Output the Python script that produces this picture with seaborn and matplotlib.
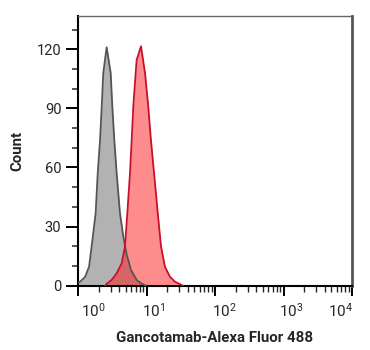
import matplotlib
matplotlib.use("Agg")
import matplotlib.pyplot as plt
import matplotlib.ticker as mticker
import matplotlib.transforms as mtransforms
import numpy as np
import pandas as pd
import seaborn as sns

# ---- data ----
control_intensity = [1.00, 1.07, 1.27, 1.45, 1.58, 1.81, 1.94, 2.10, 2.22, 2.34, 2.62,
                     3.00, 3.17, 3.39, 3.67, 4.10, 4.59, 5.14, 5.42, 5.94, 7.19, 8.51, 9.84]
control_count = [1.5, 2.0, 4.5, 9.6, 19.8, 36.8, 57, 74, 91, 108, 121,
                 108, 91, 74, 57, 36.8, 24.9, 15.6, 13, 8, 2.9, 1.0, 0]

stained_intensity = [2.48, 2.62, 3.10, 3.67, 4.35, 4.85, 5.25, 5.74, 6.08, 6.42, 6.95, 7.19,
                     8.31, 9.51, 10.6, 11.6, 12.9, 14.6, 16.3, 18.6, 22.0, 26.1, 34.1]
stained_count = [0, 1.0, 2.9, 6.3, 11.4, 19.8, 36.8, 57, 74, 91, 108, 114.6,
                 121.5, 108, 91, 74, 57, 36.8, 19.8, 9.6, 4.5, 2.0, 0]

sample_names = ["Isotype control", "Gancotamab"]
y_ticks = [0, 30, 60, 90, 120]
x_decades = [1, 10, 100, 1000, 10000]
x_label = "Gancotamab-Alexa Fluor 488"
y_label = "Count"

df = pd.DataFrame({
    "intensity": control_intensity + stained_intensity,
    "count": control_count + stained_count,
    "sample": [sample_names[0]] * len(control_intensity) + [sample_names[1]] * len(stained_intensity),
})

sns.set_style("white")
plt.rcParams["font.family"] = ["Roboto", "DejaVu Sans"]
plt.rcParams["mathtext.default"] = "regular"

fig = plt.figure(figsize=(3.7, 3.5), dpi=100)
ax = fig.add_axes([0.2108, 0.1837, 0.7406, 0.7714])

edge_colors = {sample_names[0]: "#555555", sample_names[1]: "#c8102e"}
fill_colors = {sample_names[0]: ("#808080", 0.6), sample_names[1]: ("#ff1a1a", 0.5)}

for name in sample_names:
    sub = df[df["sample"] == name]
    fc, a = fill_colors[name]
    ax.fill_between(sub["intensity"], 0, sub["count"], color=fc, alpha=a, linewidth=0, zorder=2)
    sns.lineplot(data=sub, x="intensity", y="count", ax=ax, color=edge_colors[name],
                 linewidth=1.3, estimator=None, sort=True, legend=False, zorder=3)

ax.set_xscale("log")
ax.set_xlim(1, 1e4)
ax.set_ylim(0, 137)

ax.set_yticks(y_ticks)
ax.yaxis.set_minor_locator(mticker.MultipleLocator(10))
ax.xaxis.set_major_locator(mticker.FixedLocator(x_decades))
ax.xaxis.set_minor_locator(mticker.LogLocator(base=10, subs=np.arange(2, 10)))
ax.xaxis.set_minor_formatter(mticker.NullFormatter())
ax.xaxis.set_major_formatter(mticker.FuncFormatter(lambda v, p: r"$10^{%d}$" % round(np.log10(v))))

ax.tick_params(axis="y", which="major", direction="out", length=9, width=1.4, pad=3,
               labelsize=10.5, color="black", left=True)
ax.tick_params(axis="y", which="minor", direction="out", length=4.5, width=1.1, left=True)
ax.tick_params(axis="x", which="major", direction="out", length=7, width=1.4, pad=4.5,
               labelsize=11, color="black", bottom=True)
ax.tick_params(axis="x", which="minor", direction="out", length=4, width=1.0, bottom=True)

# shift x tick labels as in reference
offsets_px = [15, 7, 9, 7.5, -11]
for lab, dx in zip(ax.get_xticklabels(), offsets_px):
    lab.set_transform(lab.get_transform() + mtransforms.ScaledTranslation(dx / 100, 0, fig.dpi_scale_trans))

for s in ["left", "bottom"]:
    ax.spines[s].set_color("black")
    ax.spines[s].set_linewidth(1.5)
ax.spines["top"].set_color("#666666")
ax.spines["top"].set_linewidth(1.0)
ax.spines["right"].set_color("#555555")
ax.spines["right"].set_linewidth(2.0)

ax.set_xlabel(x_label, fontsize=10.8, fontweight="bold", labelpad=8)
ax.set_ylabel(y_label, fontsize=10.8, fontweight="bold", labelpad=9)

fig.savefig("out.png", dpi=100)
